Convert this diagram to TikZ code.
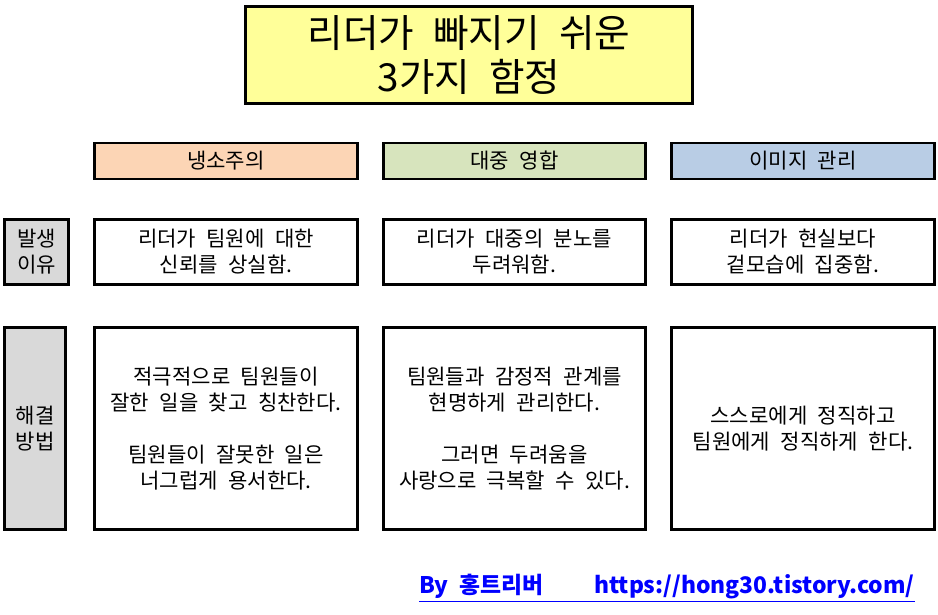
\documentclass[tikz,border=0pt]{standalone}
\usepackage{fontspec}
\newfontfamily\kr[WordSpace=2.2]{Noto Sans CJK KR}
\usepackage{xcolor}
\usepackage{tikz}
\usetikzlibrary{positioning}

\definecolor{titleyellow}{HTML}{FFFF99}
\definecolor{peach}{HTML}{FCD5B5}
\definecolor{sage}{HTML}{D7E4BD}
\definecolor{skyblue}{HTML}{B9CDE5}
\definecolor{labelgray}{HTML}{D9D9D9}

\begin{document}
\begin{tikzpicture}[
  x=0.02cm, y=-0.02cm,
  titlebox/.style = {draw=black, fill=titleyellow, line width=1.7pt,
                     minimum width=8.94cm, minimum height=1.94cm,
                     align=center, font=\kr\fontsize{22}{25.5}\selectfont},
  headbox/.style  = {draw=black, line width=1.7pt,
                     minimum width=5.26cm, minimum height=0.72cm,
                     font=\kr\fontsize{12}{14.7}\selectfont},
  cellbox/.style  = {draw=black, fill=white, line width=1.7pt,
                     minimum width=5.26cm, align=center,
                     font=\kr\fontsize{12}{14.7}\selectfont},
  rowlbl/.style   = {draw=black, fill=labelgray, line width=1.7pt,
                     align=center, inner sep=0pt,
                     font=\kr\fontsize{12}{14.7}\selectfont},
  credit/.style   = {text=blue, font=\kr\bfseries\fontsize{13}{15}\selectfont},
]
\useasboundingbox (0,0) rectangle (938,615);

%% ── Title ───────────────────────────────────────────────────────────────────
\node[titlebox] (title) at (469,55) {리더가 빠지기 쉬운\\3가지 함정};

%% ── Column heads ────────────────────────────────────────────────────────────
\node[headbox, fill=peach]   (cynic) at (226,161)   {냉소주의};
\node[headbox, fill=sage]    (crowd) at (514.5,161) {대중 영합};
\node[headbox, fill=skyblue] (image) at (803,161)   {이미지 관리};

%% ── Row: cause ──────────────────────────────────────────────────────────────
\node[rowlbl, minimum width=1.28cm, minimum height=1.3cm] (cause) at (36.5,252)
  {발생\\이유};
\node[cellbox, minimum height=1.3cm] (cynicCause) at (226,252)
  {리더가 팀원에 대한\\신뢰를 상실함.};
\node[cellbox, minimum height=1.3cm] (crowdCause) at (514.5,252)
  {리더가 대중의 분노를\\두려워함.};
\node[cellbox, minimum height=1.3cm] (imageCause) at (803,252)
  {리더가 현실보다\\겉모습에 집중함.};

%% ── Row: remedy ─────────────────────────────────────────────────────────────
\node[rowlbl, minimum width=1.22cm, minimum height=4.04cm] (remedy) at (35,428.5)
  {해결\\방법};
\node[cellbox, minimum height=4.04cm] (cynicFix) at (226,428.5)
  {적극적으로 팀원들이\\잘한 일을 찾고 칭찬한다.\\[14.7pt]팀원들이 잘못한 일은\\너그럽게 용서한다.};
\node[cellbox, minimum height=4.04cm] (crowdFix) at (514.5,428.5)
  {팀원들과 감정적 관계를\\현명하게 관리한다.\\[14.7pt]그러면 두려움을\\사랑으로 극복할 수 있다.};
\node[cellbox, minimum height=4.04cm] (imageFix) at (803,428.5)
  {스스로에게 정직하고\\팀원에게 정직하게 한다.};

%% ── Credit line ─────────────────────────────────────────────────────────────
\node[credit] (byline) at (667,588)
  {\underline{By 홍트리버\hspace{2.2em}https://hong30.tistory.com/}};

\end{tikzpicture}
\end{document}
